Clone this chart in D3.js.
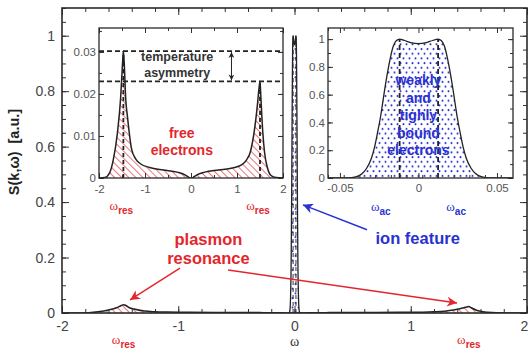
<!DOCTYPE html>
<html>
<head>
<meta charset="utf-8">
<script src="https://cdn.jsdelivr.net/npm/d3@7/dist/d3.min.js"></script>
<style>
  body { margin: 0; background: #fff; }
  svg { display: block; font-family: "Liberation Sans", Arial, sans-serif; }
</style>
</head>
<body>
<svg id="chart" width="528" height="352"></svg>
<script>
// free electron part of S(k,w)
const freeOmega = [-2, -1.87, -1.77, -1.69, -1.6, -1.53, -1.49, -1.47, -1.45, -1.42, -1.38, -1.29, -1.2, -1.1, -0.9, -0.6, -0.3, -0.12, -0.04, 0,
  0.04, 0.12, 0.3, 0.6, 0.9, 1.1, 1.2, 1.29, 1.38, 1.44, 1.48, 1.5, 1.52, 1.56, 1.6, 1.66, 1.74, 1.85, 2];
const freeS = [0, 0.0001, 0.0012, 0.0043, 0.0107, 0.019, 0.027, 0.0302, 0.027, 0.019, 0.0145, 0.0068, 0.0045, 0.0034, 0.0025, 0.0019, 0.0014, 0.0007, 0.0001, 0,
  0.0001, 0.0007, 0.0014, 0.0019, 0.0024, 0.0031, 0.0042, 0.0062, 0.0115, 0.017, 0.0215, 0.023, 0.019, 0.011, 0.006, 0.0025, 0.0006, 0.0001, 0];

// ion feature
const ionOmega = [-0.058, -0.045, -0.04, -0.036, -0.033, -0.03, -0.028, -0.026, -0.024, -0.022, -0.02, -0.018, -0.016, -0.014, -0.012, -0.009, -0.005, 0,
  0.005, 0.009, 0.0125, 0.0145, 0.0165, 0.0185, 0.0205, 0.0225, 0.0245, 0.0265, 0.0285, 0.0305, 0.0335, 0.0365, 0.0405, 0.0455, 0.06];
const ionS = [0, 0.001, 0.008, 0.03, 0.07, 0.14, 0.22, 0.33, 0.45, 0.6, 0.74, 0.86, 0.95, 0.99, 1, 0.99, 0.975, 0.967,
  0.975, 0.99, 1, 0.99, 0.95, 0.86, 0.74, 0.6, 0.45, 0.33, 0.22, 0.14, 0.07, 0.03, 0.008, 0.001, 0];

const omegaRes = [-1.47, 1.5];
const resHeight = [0.0302, 0.023];
const omegaAc = [-0.012, 0.0125];

const mainXTicks = [-2, -1, 0, 1, 2];
const mainYTicks = [0, 0.2, 0.4, 0.6, 0.8, 1];
const freeXTicks = [-2, -1, 0, 1, 2];
const freeYTicks = [0, 0.01, 0.02, 0.03];
const ionXTicks = [-0.05, 0, 0.05];
const ionYTicks = [0, 0.2, 0.4, 0.6, 0.8, 1];

const RED = "#e4262c";
const BLUE = "#2a31d2";

const svg = d3.select("#chart");
const defs = svg.append("defs");

// hatch + dot fills
const hatch = defs.append("pattern")
  .attr("id", "hatch").attr("patternUnits", "userSpaceOnUse")
  .attr("width", 5).attr("height", 5)
  .attr("patternTransform", "rotate(-45)");
hatch.append("line")
  .attr("x1", 0).attr("y1", 0).attr("x2", 0).attr("y2", 5)
  .attr("stroke", RED).attr("stroke-width", 1.3);

const dots = defs.append("pattern")
  .attr("id", "dots").attr("patternUnits", "userSpaceOnUse")
  .attr("width", 6).attr("height", 9.4);
dots.append("circle").attr("cx", 1.5).attr("cy", 2).attr("r", 1).attr("fill", BLUE);
dots.append("circle").attr("cx", 4.5).attr("cy", 6.7).attr("r", 1).attr("fill", BLUE);

[["arrRed", RED], ["arrBlue", BLUE], ["arrBlack", "#222"]].forEach(([id, c]) => {
  defs.append("marker")
    .attr("id", id).attr("viewBox", "0 0 10 10")
    .attr("refX", 10).attr("refY", 5)
    .attr("markerUnits", "userSpaceOnUse")
    .attr("markerWidth", id === "arrBlack" ? 7 : 15)
    .attr("markerHeight", id === "arrBlack" ? 6 : 10)
    .attr("orient", "auto-start-reverse")
    .append("path").attr("d", "M0,0 L10,5 L0,10 L3,5 z").attr("fill", c);
});

function drawAxes(g, x, y, cfg) {
  const [x0, x1] = x.range();
  const [y0, y1] = y.range();
  const xMinor = d3.range(x.domain()[0], x.domain()[1] + 1e-9, cfg.xMinor);
  const yMinor = d3.range(y.domain()[0], y.domain()[1] + 1e-9, cfg.yMinor);
  const fmt = d => String(d);
  const none = () => "";

  const parts = [
    [d3.axisBottom(x).tickValues(xMinor).tickSize(-cfg.minor).tickFormat(none), `translate(0,${y0})`],
    [d3.axisTop(x).tickValues(xMinor).tickSize(-cfg.minor).tickFormat(none), `translate(0,${y1})`],
    [d3.axisLeft(y).tickValues(yMinor).tickSize(-cfg.minor).tickFormat(none), `translate(${x0},0)`],
    [d3.axisRight(y).tickValues(yMinor).tickSize(-cfg.minor).tickFormat(none), `translate(${x1},0)`],
    [d3.axisTop(x).tickValues(cfg.xTicks).tickSize(-cfg.major).tickFormat(none), `translate(0,${y1})`],
    [d3.axisRight(y).tickValues(cfg.yTicks).tickSize(-cfg.major).tickFormat(none), `translate(${x1},0)`],
    [d3.axisBottom(x).tickValues(cfg.xTicks).tickSize(-cfg.major).tickPadding(cfg.xPad).tickFormat(fmt), `translate(0,${y0})`],
    [d3.axisLeft(y).tickValues(cfg.yTicks).tickSize(-cfg.major).tickPadding(cfg.yPad).tickFormat(fmt), `translate(${x0},0)`]
  ];
  parts.forEach(([ax, tr]) => {
    const a = g.append("g").attr("transform", tr).call(ax);
    a.select(".domain").remove();
    a.selectAll("line").attr("stroke", "#333").attr("stroke-width", 1);
    a.selectAll("text")
      .attr("fill", cfg.labelColor)
      .attr("font-size", cfg.fontSize)
      .attr("font-family", "Liberation Sans, Arial, sans-serif");
  });

  g.append("rect")
    .attr("x", x0).attr("y", y1)
    .attr("width", x1 - x0).attr("height", y0 - y1)
    .attr("fill", "none").attr("stroke", "#2a2a2a").attr("stroke-width", cfg.frame);
  return g;
}

function omegaLabel(g, px, py, sub, color) {
  const t = g.append("text")
    .attr("x", px).attr("y", py)
    .attr("text-anchor", "middle")
    .attr("fill", color);
  t.append("tspan").text("ω")
    .attr("font-family", "Liberation Serif, Times New Roman, serif")
    .attr("font-size", 13);
  t.append("tspan").text(sub)
    .attr("dy", 3.5)
    .attr("font-size", 10).attr("font-weight", "bold");
}

const freePts = freeOmega.map((w, i) => [w, freeS[i]]);
const ionPts = ionOmega.map((w, i) => [w, ionS[i]]);

// ---------- main plot ----------
const mx = d3.scaleLinear().domain([-2, 2]).range([62, 527]);
const my = d3.scaleLinear().domain([0, 1.1]).range([313, 8]);

defs.append("clipPath").attr("id", "clipMain")
  .append("rect").attr("x", 62).attr("y", 8).attr("width", 465).attr("height", 305);

const main = svg.append("g");
const mainData = main.append("g").attr("clip-path", "url(#clipMain)");

const mArea = d3.area().x(d => mx(d[0])).y0(my(0)).y1(d => my(d[1])).curve(d3.curveMonotoneX);
const mLine = d3.line().x(d => mx(d[0])).y(d => my(d[1])).curve(d3.curveMonotoneX);

mainData.append("path").datum(freePts).attr("d", mArea).attr("fill", "url(#hatch)");
mainData.append("path").datum(freePts).attr("d", mLine)
  .attr("fill", "none").attr("stroke", "#222").attr("stroke-width", 1.5);

mainData.append("path").datum(ionPts).attr("d", mArea).attr("fill", "url(#dots)");
mainData.selectAll(".acMain").data(omegaAc).enter().append("line")
  .attr("x1", d => mx(d)).attr("x2", d => mx(d))
  .attr("y1", my(0)).attr("y2", my(1))
  .attr("stroke", "#333").attr("stroke-width", 1).attr("stroke-dasharray", "4,3");
mainData.append("path").datum(ionPts).attr("d", mLine)
  .attr("fill", "none").attr("stroke", "#222").attr("stroke-width", 1.3);

drawAxes(main, mx, my, {
  xTicks: mainXTicks, yTicks: mainYTicks, xMinor: 0.2, yMinor: 0.05,
  major: 7, minor: 4, xPad: 8, yPad: 7, fontSize: 14, labelColor: "#444", frame: 1.6
});
// last x label sits on the image edge
main.selectAll("text").filter(function () { return d3.select(this).text() === "2" && this.parentNode.__data__ === 2; })
  .attr("dx", -3);

main.append("text")
  .attr("transform", "translate(19,152) rotate(-90)")
  .attr("text-anchor", "middle")
  .attr("font-size", 14.5).attr("font-weight", "bold").attr("fill", "#222")
  .attr("xml:space", "preserve")
  .text("S(k,ω)  [a.u.]");

main.append("text")
  .attr("x", mx(0)).attr("y", 346)
  .attr("text-anchor", "middle")
  .attr("font-family", "Liberation Serif, Times New Roman, serif")
  .attr("font-size", 14).attr("fill", "#333")
  .text("ω");

omegaRes.forEach(w => omegaLabel(main, mx(w), 344, "res", RED));

// ---------- left inset: free electrons ----------
const fx = d3.scaleLinear().domain([-2, 2]).range([99, 283]);
const fy = d3.scaleLinear().domain([0, 0.0357]).range([178, 28]);

defs.append("clipPath").attr("id", "clipFree")
  .append("rect").attr("x", 99).attr("y", 28).attr("width", 184).attr("height", 150);

const inFree = svg.append("g");
inFree.append("rect").attr("x", 99).attr("y", 28).attr("width", 184).attr("height", 150).attr("fill", "#fff");
const freeData = inFree.append("g").attr("clip-path", "url(#clipFree)");

const fArea = d3.area().x(d => fx(d[0])).y0(fy(0)).y1(d => fy(d[1])).curve(d3.curveMonotoneX);
const fLine = d3.line().x(d => fx(d[0])).y(d => fy(d[1])).curve(d3.curveMonotoneX);

freeData.append("path").datum(freePts).attr("d", fArea).attr("fill", "url(#hatch)");
freeData.selectAll(".resLine").data(omegaRes).enter().append("line")
  .attr("x1", d => fx(d)).attr("x2", d => fx(d))
  .attr("y1", fy(0)).attr("y2", (d, i) => fy(resHeight[i]))
  .attr("stroke", "#222").attr("stroke-width", 1.8).attr("stroke-dasharray", "4,3");
freeData.append("path").datum(freePts).attr("d", fLine)
  .attr("fill", "none").attr("stroke", "#222").attr("stroke-width", 1.5);
freeData.selectAll(".asym").data(resHeight).enter().append("line")
  .attr("x1", fx(-2)).attr("x2", fx(2))
  .attr("y1", d => fy(d)).attr("y2", d => fy(d))
  .attr("stroke", "#222").attr("stroke-width", 1.8).attr("stroke-dasharray", "5,3");

inFree.append("line")
  .attr("x1", fx(0.88)).attr("x2", fx(0.88))
  .attr("y1", fy(resHeight[0]) + 1).attr("y2", fy(resHeight[1]) - 1)
  .attr("stroke", "#222").attr("stroke-width", 1)
  .attr("marker-start", "url(#arrBlack)").attr("marker-end", "url(#arrBlack)");

inFree.selectAll(".tempTxt").data(["temperature", "asymmetry"]).enter().append("text")
  .attr("x", fx(-0.3)).attr("y", (d, i) => 61 + i * 16)
  .attr("text-anchor", "middle")
  .attr("font-size", 12.5).attr("font-weight", "bold").attr("fill", "#333")
  .text(d => d);

inFree.selectAll(".freeTxt").data(["free", "electrons"]).enter().append("text")
  .attr("x", fx(-0.2)).attr("y", (d, i) => fy(0.0096) + i * 17)
  .attr("text-anchor", "middle")
  .attr("font-size", 14).attr("font-weight", "bold").attr("fill", RED)
  .text(d => d);

drawAxes(inFree, fx, fy, {
  xTicks: freeXTicks, yTicks: freeYTicks, xMinor: 0.5, yMinor: 0.005,
  major: 5, minor: 3, xPad: 7, yPad: 3, fontSize: 11.5, labelColor: "#555", frame: 1.3
});

omegaRes.forEach(w => omegaLabel(inFree, fx(w) - 2, 210, "res", RED));

// ---------- right inset: ion feature ----------
const ix = d3.scaleLinear().domain([-0.0576, 0.0602]).range([328, 513]);
const iy = d3.scaleLinear().domain([0, 1.08]).range([178, 28]);

defs.append("clipPath").attr("id", "clipIon")
  .append("rect").attr("x", 328).attr("y", 28).attr("width", 185).attr("height", 150);

const inIon = svg.append("g");
inIon.append("rect").attr("x", 328).attr("y", 28).attr("width", 185).attr("height", 150).attr("fill", "#fff");
const ionData = inIon.append("g").attr("clip-path", "url(#clipIon)");

const iArea = d3.area().x(d => ix(d[0])).y0(iy(0)).y1(d => iy(d[1])).curve(d3.curveMonotoneX);
const iLine = d3.line().x(d => ix(d[0])).y(d => iy(d[1])).curve(d3.curveMonotoneX);

ionData.append("path").datum(ionPts).attr("d", iArea).attr("fill", "url(#dots)");
ionData.selectAll(".acLine").data(omegaAc).enter().append("line")
  .attr("x1", d => ix(d)).attr("x2", d => ix(d))
  .attr("y1", iy(0)).attr("y2", iy(1))
  .attr("stroke", "#222").attr("stroke-width", 1.8).attr("stroke-dasharray", "5,3");
ionData.append("path").datum(ionPts).attr("d", iLine)
  .attr("fill", "none").attr("stroke", "#222").attr("stroke-width", 1.3);

inIon.selectAll(".ionTxt").data(["weakly", "and", "tighly", "bound", "electrons"]).enter().append("text")
  .attr("x", ix(0)).attr("y", (d, i) => 85 + i * 17.5)
  .attr("text-anchor", "middle")
  .attr("font-size", 14).attr("font-weight", "bold").attr("fill", BLUE)
  .text(d => d);

drawAxes(inIon, ix, iy, {
  xTicks: ionXTicks, yTicks: ionYTicks, xMinor: 0.01, yMinor: 0.1,
  major: 5, minor: 3, xPad: 6, yPad: 3, fontSize: 11.5, labelColor: "#555", frame: 1.3
});

[-0.024, 0.024].forEach(w => omegaLabel(inIon, ix(w), 211, "ac", BLUE));

// ---------- annotations on the main plot ----------
const ann = svg.append("g");

ann.selectAll(".plasTxt").data(["plasmon", "resonance"]).enter().append("text")
  .attr("x", mx(-0.74)).attr("y", (d, i) => my(0.245) + i * 19)
  .attr("text-anchor", "middle")
  .attr("font-size", 16.5).attr("font-weight", "bold").attr("fill", RED)
  .text(d => d);

ann.append("text")
  .attr("x", mx(1.06)).attr("y", my(0.25))
  .attr("text-anchor", "middle")
  .attr("font-size", 16.5).attr("font-weight", "bold").attr("fill", BLUE)
  .text("ion feature");

const arrows = [
  { from: [-0.985, 0.162], to: [-1.415, 0.047], color: RED, marker: "arrRed" },
  { from: [-0.572, 0.155], to: [1.398, 0.036], color: RED, marker: "arrRed" },
  { from: [0.624, 0.3], to: [0.073, 0.39], color: BLUE, marker: "arrBlue" }
];
ann.selectAll(".arrow").data(arrows).enter().append("line")
  .attr("x1", d => mx(d.from[0])).attr("y1", d => my(d.from[1]))
  .attr("x2", d => mx(d.to[0])).attr("y2", d => my(d.to[1]))
  .attr("stroke", d => d.color).attr("stroke-width", 1.5)
  .attr("marker-end", d => `url(#${d.marker})`);
</script>
</body>
</html>
